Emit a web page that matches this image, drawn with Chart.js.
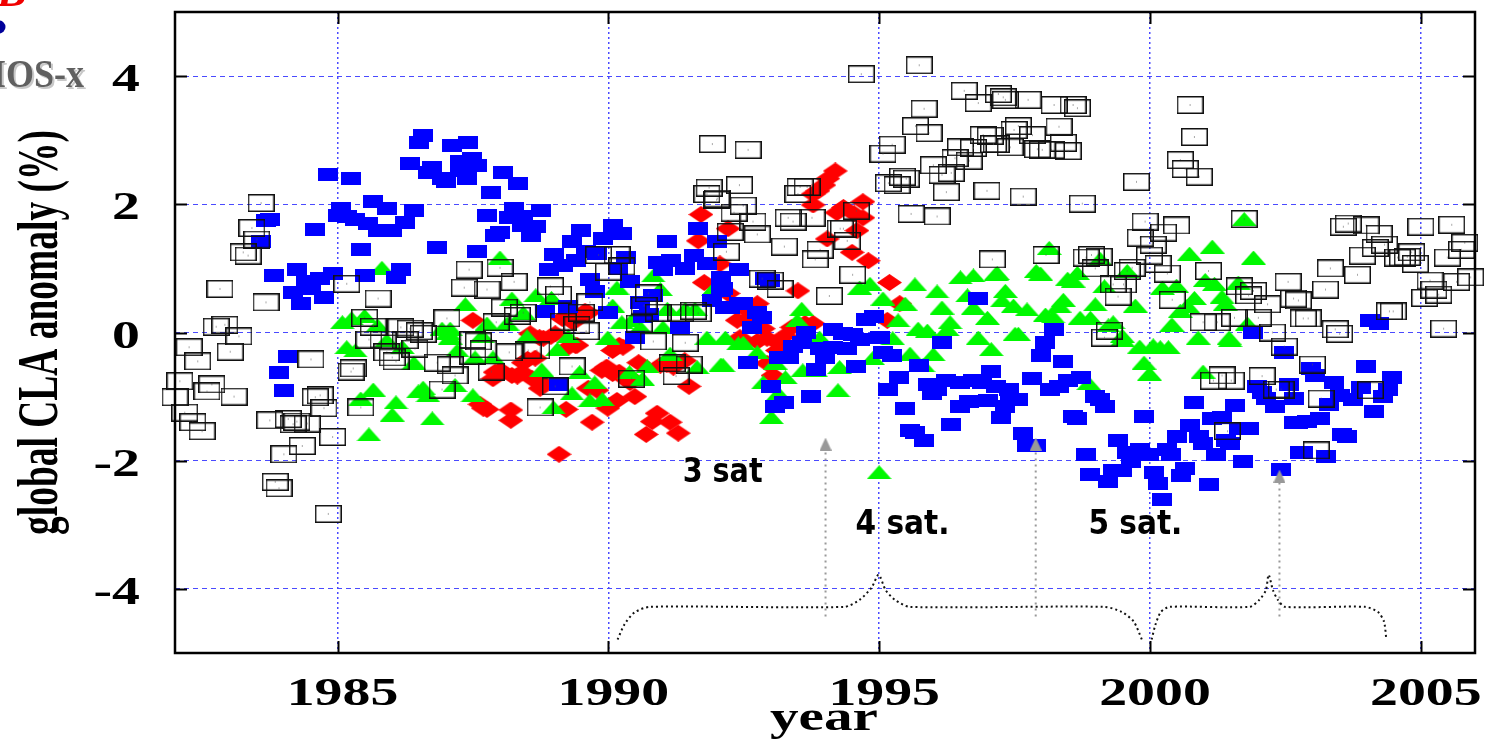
<!DOCTYPE html>
<html><head><meta charset="utf-8">
<style>html,body{margin:0;padding:0;background:#fff;overflow:hidden}canvas{display:block}</style>
<script src="https://cdn.jsdelivr.net/npm/chart.js@4"></script></head>
<body><canvas id="c" width="1486" height="739"></canvas>
<script>
const xTickYears=[1985,1990,1995,2000,2005];
const yTickValues=[-4,-2,0,2,4];
const xAxisTitle="year";
const yAxisTitle="global CLA anomaly (%)";
const redSeries=[[1991.71,1.84],[1992.21,1.62],[1991.66,1.43],[1992.06,1.07],[1991.77,.78],[1992.21,.61],[1987.5,.19],[1989.57,.33],[1989.31,.19],[1989.48,.25],[1988.73,-.08],[1988.94,-.06],[1989.39,-.2],[1990.2,-.2],[1988.51,-.42],[1990.56,-.47],[1991.08,-.5],[1991.41,-.44],[1988,-.59],[1987.87,-.72],[1988.32,-.68],[1988.79,-.79],[1989.88,-.59],[1990.2,-.62],[1990.43,-.72],[1989.79,-.9],[1990.16,-1.06],[1990.49,-1],[1991.49,-.84],[1987.69,-1.18],[1988.2,-1.21],[1988.2,-1.37],[1989.22,-1.2],[1989.99,-1.18],[1989.7,-1.4],[1990.9,-1.26],[1990.81,-1.39],[1991.14,-1.4],[1991.29,-1.57],[1990.7,-1.59],[1989.09,-1.9],[1993.5,.65],[1995.19,.78],[1992.75,-.14],[1993.26,-.05],[1993.63,.14],[1992.93,-.48],[1993.04,-.67],[1993.12,-.28],[1995.38,.45],[1995.15,.19],[1992.38,.19],[1992.66,.39],[1994.19,2.52],[1993.98,2.3],[1993.78,2.16],[1993.87,2.21],[1993.78,1.99],[1994.22,1.87],[1994.7,2.04],[1994.54,1.85],[1994.7,1.79],[1994.59,1.59],[1994.04,1.46],[1994.5,1.25],[1994.8,1.12],[1994.34,1.95],[1987.63,-1.12],[1987.76,-1.2],[1992.53,.19],[1987.91,-.62],[1988.06,-.62],[1988.22,-.67],[1988.41,-.62],[1988.59,-.72],[1988.74,-.87],[1988.56,-.02],[1988.8,-.09],[1989.02,-.02],[1989.26,-.23],[1989.42,-.2],[1988.43,-.47],[1988.65,-.4],[1989.63,.31],[1989.15,.22],[1989.35,.16],[1990.08,-.28],[1990.27,-.23],[1991.2,-.54],[1990.96,-.51],[1989.97,-.54],[1990.08,-.64],[1990.31,-.72],[1990.4,-.78],[1989.63,-.87],[1992.43,-.08],[1992.93,-.09],[1993.12,-.16],[1993.39,.08],[1993.78,.14],[1992.86,.06],[1992.75,.45],[1992.49,.39],[1994.05,2.4]];
const greenSeries=[[1985.09,.16],[1985.26,.22],[1985.5,.26],[1985.74,.11],[1985.17,-.23],[1985.33,-.28],[1985.91,-.12],[1986.2,-.23],[1986.41,-.47],[1986.93,.06],[1987.04,0],[1985.66,-.89],[1985.43,-1.03],[1986.58,-.86],[1986.49,-.92],[1986.67,-.98],[1986.08,-1.09],[1986.01,-1.28],[1986.75,-1.34],[1985.58,-1.59],[1985.82,1.01],[1988,1.17],[1987.36,.44],[1988.22,.53],[1988.66,.58],[1988.43,.31],[1988.95,.54],[1990.83,.89],[1990.16,.7],[1990.96,.68],[1991.94,.68],[1987.76,.14],[1987.08,.06],[1988.13,.14],[1990.08,.42],[1990.25,.16],[1990.43,.19],[1990.59,.08],[1991.01,.08],[1991.09,.37],[1991.42,.37],[1991.6,.37],[1989.99,-.08],[1989.26,-.06],[1988.5,-.06],[1987.67,-.05],[1987.08,-.08],[1991.82,-.08],[1992.16,-.08],[1992.4,-.17],[1989.06,-.26],[1987.21,-.28],[1987.54,-.39],[1987.87,-.39],[1991.14,-.33],[1990.72,-.53],[1990.39,-.62],[1988.77,-.58],[1989.47,-.62],[1990.63,-.72],[1989.75,-.78],[1991.64,-.54],[1992.08,-.5],[1987.17,-.82],[1987.5,-.98],[1989.33,-.95],[1989.66,-1.06],[1989.89,-1.04],[1988.99,-1.17],[1994.83,.76],[1994.64,.7],[1995.66,.75],[1996.07,.64],[1996.5,.86],[1996.74,.89],[1997.16,.92],[1996.63,.58],[1997.33,.65],[1997.27,.5],[1997.48,.42],[1995.07,.53],[1995.48,.45],[1996.16,.39],[1996.74,.39],[1997,.23],[1996.31,.16],[1995.35,.19],[1995.72,.06],[1995.89,.03],[1996.26,.05],[1996.83,-.08],[1997.51,-.02],[1997.07,-.26],[1995.25,-.09],[1995.57,-.33],[1996,-.34],[1995.81,-.51],[1993.57,.37],[1993.49,.19],[1992.49,-.16],[1992.75,-.31],[1993.08,-.47],[1993.27,-.7],[1992.86,-.78],[1993.14,-.95],[1993.01,-1.32],[1994.24,-.9],[1993.83,-.59],[1993.59,-.59],[1994.27,-.54],[1993.9,-.08],[1994.88,-.4],[1992.12,-.51],[1995,-2.18],[1998.14,1.32],[1997.18,.93],[1997.9,.96],[1997.98,.92],[1998.66,.93],[1998.48,.84],[1998.58,.81],[1999.08,1.15],[1999.58,.96],[1999.16,.72],[1997.73,.36],[1998.4,.51],[1998.32,.42],[1998.99,.44],[1998.07,.28],[1998.21,.25],[1998.71,.23],[1998.9,.23],[1999.32,.16],[1999.73,.42],[1997.57,-.02],[2000.73,1.23],[2001.15,1.34],[2001.91,1.17],[2001.74,1.77],[2000.23,.7],[2000.49,.73],[2001.02,.82],[2001.19,.76],[2001.63,.78],[2000.82,.54],[2001.33,.56],[2001.39,.45],[2000.69,.42],[2000.56,.34],[2000.41,.12],[2001.8,.14],[2000.89,-.08],[2001.46,-.08],[1999.49,-.05],[1999.23,.11],[1999.49,-.11],[1999.81,-.22],[2000.06,-.2],[2000.19,-.23],[2000.34,-.23],[1999.89,-.47],[1999.99,-.64],[2001.48,-.12],[2000.98,-.61],[1998.87,-.79],[2000.39,.11]];
const blueSeries=[[1984.83,2.47],[1985.24,2.41],[1985.07,1.93],[1985.66,2.04],[1985.92,1.93],[1986.42,1.91],[1985,1.82],[1985.17,1.81],[1985.33,1.76],[1985.57,1.7],[1985.74,1.59],[1986,1.59],[1986.25,1.71],[1984.58,1.6],[1983.75,1.76],[1983.68,1.74],[1983.59,1.42],[1985.43,1.29],[1986.84,1.32],[1983.83,.89],[1984.25,.98],[1984.68,.84],[1984.91,.92],[1985.51,.89],[1986.08,.86],[1986.17,.98],[1984.42,.79],[1984.18,.62],[1984.51,.68],[1984.75,.54],[1984.33,.45],[1986.58,3.07],[1986.51,2.97],[1986.34,2.63],[1986.75,2.57],[1986.67,2.49],[1986.93,2.41],[1987,2.35],[1987.12,2.91],[1987.41,2.97],[1987.26,2.66],[1987.48,2.71],[1987.58,2.6],[1987.26,2.52],[1987.39,2.41],[1988.06,2.49],[1988.33,2.32],[1987.84,2.18],[1987.76,1.82],[1988.26,1.93],[1988.76,1.9],[1988.17,1.79],[1988.43,1.81],[1988.67,1.65],[1988.41,1.67],[1988.57,1.51],[1988,1.56],[1987.91,1.51],[1987.58,1.26],[1989.49,1.59],[1989.33,1.42],[1990.08,1.67],[1989.9,1.46],[1990.25,1.54],[1991.09,1.42],[1991.66,1.62],[1992.01,1.42],[1989,1.21],[1989.17,1.04],[1988.91,.98],[1989.4,1.12],[1989.59,1.26],[1989.79,1.23],[1990.33,1.17],[1990.18,1],[1989.66,.82],[1989.76,.64],[1990.4,.79],[1990.92,1.09],[1991.01,.98],[1991.16,1.12],[1991.42,1],[1991.58,1.2],[1991.82,1.07],[1992.08,.86],[1992.42,.98],[1989.26,.4],[1988.83,.33],[1990,.31],[1990.59,.47],[1990.83,.58],[1990.64,.25],[1990.75,.28],[1990.49,-.08],[1991.33,.08],[1991.92,.5],[1992.08,.65],[1992.16,.39],[1992.42,.45],[1989.09,-.81],[1992.9,.84],[1992.99,.81],[1992.12,.68],[1992.49,.45],[1992.25,.39],[1992.75,.31],[1992.84,.23],[1992.66,.08],[1993.65,0],[1994.15,.05],[1994.34,-.02],[1994.51,-.03],[1994.75,.2],[1994.91,.25],[1995.01,-.08],[1994.64,-.11],[1993.57,-.16],[1993.41,-.22],[1993.9,-.25],[1994.4,-.25],[1994.15,-.23],[1993.34,-.39],[1993.15,-.39],[1994,-.39],[1993.84,-.58],[1992.58,-.47],[1994.58,-.53],[1995.07,-.31],[1995.24,-.36],[1995.74,-.51],[1996.16,-.16],[1996.83,.53],[1993.01,-.84],[1993.75,-1],[1993.25,-1.09],[1993.08,-1.15],[1995.37,-.7],[1995.17,-.89],[1995.91,-.81],[1995.98,-.95],[1996.07,-.89],[1996.24,-.75],[1996.5,-.78],[1996.74,-.75],[1996.9,-.78],[1997.07,-.61],[1997.16,-.84],[1997.4,-.89],[1997.42,-1.04],[1995.48,-1.18],[1996.5,-1.15],[1996.66,-1.07],[1997,-1.06],[1997.33,-1.15],[1997.24,-1.32],[1996.33,-1.43],[1995.57,-1.53],[1995.67,-1.56],[1995.83,-1.68],[1998.23,.05],[1998.07,-.16],[1997.99,-.36],[1998.4,-.45],[1997.83,-.72],[1998.16,-.89],[1998.32,-.84],[1998.49,-.75],[1998.73,-.7],[1998.99,-1],[1999.08,-1.04],[1999.16,-1.15],[1997.57,-1.04],[1998.57,-1.31],[1998.66,-1.34],[1997.66,-1.57],[1997.73,-1.76],[1997.9,-1.76],[1999.89,-1.31],[1999.4,-1.68],[1998.82,-1.9],[1999.58,-1.87],[1999.82,-1.82],[1999.99,-1.91],[1999.65,-2.02],[1998.9,-2.21],[1999.32,-2.15],[1999.49,-2.15],[1999.23,-2.32],[2000.08,-2.19],[2000.15,-2.35],[2000.23,-2.6],[2000.32,-1.82],[2000.39,-1.9],[2000.49,-1.62],[2000.73,-1.45],[2000.91,-1.62],[2000.98,-1.73],[2000.82,-1.09],[2001.15,-1.34],[2001.32,-1.32],[2001.57,-1.14],[2001.65,-1.49],[2001.82,-1.49],[2001.41,-1.68],[2001.48,-1.73],[2001.22,-1.9],[2000.65,-2.12],[2000.58,-2.23],[2001.08,-2.37],[2001.72,-2.01],[2002.41,-2.13],[2001.91,0],[2002.48,-.31],[2001.98,-.84],[2002.07,-.93],[2002.15,-1.03],[2002.31,-1.15],[2002.57,-.81],[2002.65,-1.03],[2002.66,-1.4],[2002.74,-1.4],[2002.9,-1.39],[2003.14,-1.34],[2002.76,-1.87],[2004.07,.19],[2004.23,.14],[2002.98,-.56],[2003.05,-.67],[2003.98,-.53],[2004.47,-.7],[2004.4,-.89],[2003.4,-.78],[2004.31,-1],[2003.51,-.98],[2003.9,-.86],[2003.74,-1.04],[2003.31,-1.12],[2004.14,-1.23],[2003.55,-1.59],[2003.64,-1.62],[2002.83,-1.87],[2003.24,-1.93],[1984.09,-.37],[1983.92,-.62],[1984.01,-.9]];
const blackSeries=[[1983.59,2.02],[1983.42,1.63],[1983.51,1.45],[1983.26,1.25],[1983.35,1.2],[1982.83,.68],[1983.68,.47],[1985.17,.76],[1985.75,.53],[1982.76,.09],[1982.92,.12],[1983.18,-.06],[1982.26,-.23],[1982.42,-.45],[1983.02,-.3],[1984.51,-.42],[1985.29,-.56],[1985.25,-.61],[1982.09,-.76],[1982.68,-.81],[1982.59,-.92],[1983.09,-1],[1982,-1.01],[1982.18,-1.25],[1982.33,-1.4],[1982.5,-1.54],[1984.68,-.98],[1984.59,-1.01],[1984.75,-1.18],[1985.43,-1.17],[1983.75,-1.37],[1984.09,-1.35],[1984.25,-1.39],[1984.18,-1.43],[1984.44,-1.42],[1984.91,-1.63],[1984.35,-1.77],[1984.01,-1.9],[1983.85,-2.33],[1983.92,-2.43],[1984.83,-2.83],[1985.5,.23],[1985.66,.09],[1985.58,-.11],[1985.84,-.11],[1986.17,.08],[1986.34,.06],[1986.51,.02],[1986.58,-.02],[1986.25,-.12],[1986.43,-.25],[1985.91,-.31],[1986.01,-.39],[1986.08,-.45],[1987.02,.22],[1986.84,-.47],[1987.08,-.51],[1987.17,-.67],[1986.93,-.89],[1987.43,.98],[1988,1.01],[1988.26,.79],[1987.34,.7],[1987.76,.67],[1988.93,.72],[1989.08,.59],[1988.08,.39],[1988.43,.31],[1988.32,.26],[1987.93,.16],[1989.66,.47],[1989.5,.31],[1989.17,.17],[1989.42,.12],[1989.59,.02],[1989.82,1.21],[1990.16,1.21],[1990.25,1.03],[1990,.95],[1990.74,.61],[1990.66,.42],[1990.92,.31],[1990.57,.14],[1990.83,-.14],[1991.42,-.16],[1991.57,.34],[1991.66,.3],[1991.34,.31],[1992.18,1.26],[1992.25,1.57],[1992,2.07],[1987.5,-.12],[1987.6,-.14],[1987.69,-.26],[1987.5,-.36],[1988.17,-.31],[1988.52,-.28],[1988.68,-.28],[1989.33,-.53],[1987.84,-.61],[1990.43,-.72],[1991.18,-.48],[1991.49,-.5],[1991.25,-.68],[1989.02,-.84],[1988.74,-1.17],[1994.67,4.03],[1995.74,4.17],[1991.92,2.94],[1992.58,2.85],[1991.86,2.26],[1992.42,2.3],[1991.82,2.16],[1992.01,2.09],[1992.49,1.98],[1992.32,1.87],[1992.67,1.73],[1992.75,1.53],[1993.25,1.34],[1993.54,2.27],[1993.67,2.27],[1993.5,2.16],[1993.32,1.79],[1993.41,1.73],[1993.76,1.79],[1993.91,1.29],[1993.82,1.14],[1994.28,1.62],[1994.34,1.62],[1994.58,1.9],[1994.41,1.43],[1994.51,.9],[1992.84,.84],[1992.99,.81],[1993.17,.68],[1994.08,.57],[1995.24,2.93],[1995.07,2.79],[1995.17,2.33],[1995.33,2.3],[1995.43,2.43],[1995.5,2.4],[1995.59,1.85],[1996.07,1.81],[1996.24,2.19],[1996.99,2.21],[1996.57,3.77],[1996.83,3.58],[1995.83,3.49],[1995.67,3.22],[1995.92,3.11],[1996,2.61],[1996.16,2.46],[1996.33,2.49],[1996.5,2.89],[1996.74,2.88],[1996.66,2.68],[1996.4,2.72],[1996.92,3.08],[1997.16,2.94],[1997.09,1.14],[1997.2,3.72],[1997.29,3.67],[1997.33,3.63],[1997.75,3.63],[1998.23,3.55],[1998.58,3.55],[1998.66,3.5],[1997.57,3.22],[1997.49,3.16],[1998.32,3.21],[1997.83,3.08],[1997.42,2.89],[1998.4,2.96],[1997.92,2.86],[1998.01,2.85],[1998.18,2.85],[1998.49,2.83],[1997.05,3.07],[1997.11,2.94],[1997.66,2.12],[1998.75,2.01],[1999.75,2.35],[2000.74,3.55],[2000.82,3.05],[2000.56,2.69],[2000.65,2.55],[2000.91,2.43],[1999.91,1.73],[2000.49,1.67],[2000.25,1.56],[1999.82,1.48],[2000.06,1.37],[1999.99,1.2],[2000.15,1.07],[2000.32,.92],[1998.08,1.21],[1998.82,1.17],[1998.92,1.21],[1999.06,1.18],[1998.99,1],[1999.58,.96],[1999.67,1.01],[1999.32,.75],[1999.51,.75],[1999.41,.56],[2000.41,.51],[2001.08,.96],[2001.74,1.77],[2001.65,.72],[2001.91,.65],[2001.82,.58],[2002.17,.44],[2002.55,.79],[2002.65,.53],[2002.74,.5],[2000.98,.16],[2001.24,.16],[2001.56,.23],[2002,.23],[2002.26,0],[1999.25,.03],[1999.16,-.08],[2003.57,1.65],[2003.66,1.7],[2003.99,1.67],[2004.23,1.54],[2004.33,1.37],[2004.16,1.32],[2003.92,1.2],[2003.33,1],[2003.83,.9],[2004.57,1.17],[2004.66,1.17],[2004.75,1.18],[2004.83,1.25],[2004.9,1.07],[2005,1.65],[2005.57,1.68],[2005.81,1.4],[2005.75,1.29],[2005.49,1.17],[2005.92,.86],[2005.66,.79],[2005.17,.81],[2005.24,.67],[2005.33,.59],[2005.07,.54],[2005.42,.06],[2003.24,.67],[2002.83,.22],[2002.92,.22],[2004.42,.33],[2004.49,.33],[2003.42,.05],[2003.5,-.02],[2003,-.5],[2002.07,-.68],[2002.33,-.89],[2002.42,-.89],[2003.16,-1.03],[2004.07,-.9],[2003.07,-1.84],[2001.33,-.67],[2001.17,-.75],[2001.5,-.75],[2001.43,-1.54],[2002.48,-.22]];
const brace1=[[1990.17,-4.79],[1990.3,-4.55],[1990.48,-4.37],[1990.76,-4.28],[1994.36,-4.28],[1994.64,-4.17],[1994.86,-3.98],[1994.99,-3.78],[1995.12,-4.02],[1995.29,-4.17],[1995.56,-4.28],[1999.16,-4.28],[1999.48,-4.36],[1999.7,-4.51],[1999.85,-4.79]];
const brace2=[[2000.03,-4.79],[2000.1,-4.56],[2000.2,-4.36],[2000.36,-4.28],[2001.84,-4.28],[2002.02,-4.17],[2002.14,-4.02],[2002.19,-3.78],[2002.27,-4.02],[2002.36,-4.17],[2002.49,-4.28],[2003.97,-4.28],[2004.21,-4.36],[2004.32,-4.51],[2004.36,-4.76]];
const arrow1=[[1994.01,-4.43],[1994.01,-1.74]];
const arrow2=[[1997.89,-4.43],[1997.89,-1.74]];
const arrow3=[[2002.39,-4.43],[2002.39,-2.24]];
const satLabels=[["3 sat",1992.11,-2.19],["4 sat.",1995.43,-3.0],["5 sat.",1999.73,-3.0]];

function marker(w,h,draw){const c=document.createElement('canvas');c.width=w;c.height=h;draw(c.getContext('2d'),w,h);return c;}
const blueMark=marker(20,13,(g,w,h)=>{g.fillStyle='#0000ff';g.fillRect(0,0,w,h);});
const redMark=marker(25,17,(g,w,h)=>{g.fillStyle='#ff0000';g.beginPath();g.moveTo(w/2,0);g.lineTo(w,h/2);g.lineTo(w/2,h);g.lineTo(0,h/2);g.closePath();g.fill();});
const greenMark=marker(25,14,(g,w,h)=>{g.fillStyle='#00f800';g.beginPath();g.moveTo(w/2,0);g.lineTo(w,h);g.lineTo(0,h);g.closePath();g.fill();});
const boxMark=marker(27,18,(g,w,h)=>{g.strokeStyle='#111';g.lineWidth=1.5;g.strokeRect(.75,.75,w-1.5,h-1.5);g.fillStyle='#555';g.fillRect(w/2-.5,h/2-.5,1,1);});
const arrowHead=marker(12,13,(g,w,h)=>{g.fillStyle='#999';g.beginPath();g.moveTo(w/2,0);g.lineTo(w,h);g.lineTo(0,h);g.closePath();g.fill();});
const pts=a=>a.map(p=>({x:p[0],y:p[1]}));
function scatter(label,a,style,order){return {label,data:pts(a),pointStyle:style,pointRadius:6,showLine:false,order,clip:false};}
function arrowDs(label,a){return {label,data:pts(a),showLine:true,borderColor:'#999',borderWidth:2,borderDash:[2,4],pointStyle:[false,arrowHead],pointRadius:[0,6],order:2,clip:false};}
function braceDs(label,a){return {label,data:pts(a),showLine:true,tension:.25,borderColor:'#111',borderWidth:2,borderDash:[2,3],pointRadius:0,order:1,clip:false};}

function stretched(g,text,x,y,opt){
  g.save();g.font=opt.font;g.fillStyle=opt.color||'#000';g.textBaseline=opt.base||'alphabetic';g.textAlign='left';
  const w=g.measureText(text).width;const sx=opt.width?opt.width/w:(opt.sx||1);
  g.translate(x,y);if(opt.rot)g.rotate(opt.rot);g.scale(sx,1);
  const off=opt.align==='right'?-w:opt.align==='left'?0:-w/2;
  g.fillText(text,off,0);g.restore();
}
const decor={id:'decor',afterDraw(ch){
  const g=ch.ctx,a=ch.chartArea,sx=ch.scales.x,sy=ch.scales.y;
  g.save();g.strokeStyle='#000';g.lineWidth=2;
  const L=12;
  xTickYears.forEach(v=>{const p=Math.round(sx.getPixelForValue(v))+.5;g.beginPath();g.moveTo(p,a.bottom);g.lineTo(p,a.bottom-L);g.moveTo(p,a.top);g.lineTo(p,a.top+L);g.stroke();});
  yTickValues.forEach(v=>{const p=Math.round(sy.getPixelForValue(v))+.5;g.beginPath();g.moveTo(a.left,p);g.lineTo(a.left+L,p);g.moveTo(a.right,p);g.lineTo(a.right-L,p);g.stroke();});
  g.lineWidth=2.5;g.strokeRect(a.left,a.top,a.right-a.left,a.bottom-a.top);g.restore();
  const tick='bold 41px "Liberation Serif"';
  xTickYears.forEach(v=>stretched(g,String(v),sx.getPixelForValue(v)+5,705,{font:tick,sx:1.36}));
  yTickValues.forEach(v=>stretched(g,String(v),140,sy.getPixelForValue(v)+15,{font:tick,sx:1.36,align:'right'}));
  stretched(g,xAxisTitle,824,730,{font:'bold 40px "Liberation Serif"',sx:1.43});
  stretched(g,yAxisTitle,57,332.5,{font:'bold 57px "Liberation Serif"',width:405,rot:-Math.PI/2});
  satLabels.forEach(s=>stretched(g,s[0],sx.getPixelForValue(s[1]),sy.getPixelForValue(s[2]),{font:'bold 34px "DejaVu Sans"',base:'middle',width:s[0].length>5?94:80}));
  stretched(g,"B",12,6,{font:'italic bold 44px "Liberation Serif"',color:'#f00000'});
  g.save();g.fillStyle='#00009a';g.beginPath();g.arc(-1,27,6.5,0,7);g.fill();g.restore();
  stretched(g,"IOS-x",86,89,{font:'bold 40px "Liberation Serif"',color:'#c8c8c8',align:'right',width:92});
  stretched(g,"IOS-x",84,87,{font:'bold 40px "Liberation Serif"',color:'#606060',align:'right',width:92});
}};
new Chart(document.getElementById('c'),{type:'scatter',plugins:[decor],data:{datasets:[
  scatter('red',redSeries,redMark,6),scatter('green',greenSeries,greenMark,5),scatter('blue',blueSeries,blueMark,4),scatter('black',blackSeries,boxMark,3),
  arrowDs('arrow 1',arrow1),arrowDs('arrow 2',arrow2),arrowDs('arrow 3',arrow3),braceDs('brace 1',brace1),braceDs('brace 2',brace2)]},
 options:{responsive:false,animation:false,events:[],layout:{padding:{left:175,top:12,right:11,bottom:86}},
  plugins:{legend:{display:false},tooltip:{enabled:false},title:{display:false}},
  scales:{
   x:{type:'linear',min:1982,max:2006,afterBuildTicks:s=>{s.ticks=xTickYears.map(value=>({value}));},ticks:{display:false},
      grid:{color:'#4a4aff',lineWidth:1.5,drawTicks:false},border:{display:false,dash:[2,3]}},
   y:{type:'linear',min:-5,max:5,afterBuildTicks:s=>{s.ticks=yTickValues.map(value=>({value}));},ticks:{display:false},
      grid:{color:'#4a4aff',lineWidth:1,drawTicks:false},border:{display:false,dash:[5,4]}}
  }}});
</script></body></html>
